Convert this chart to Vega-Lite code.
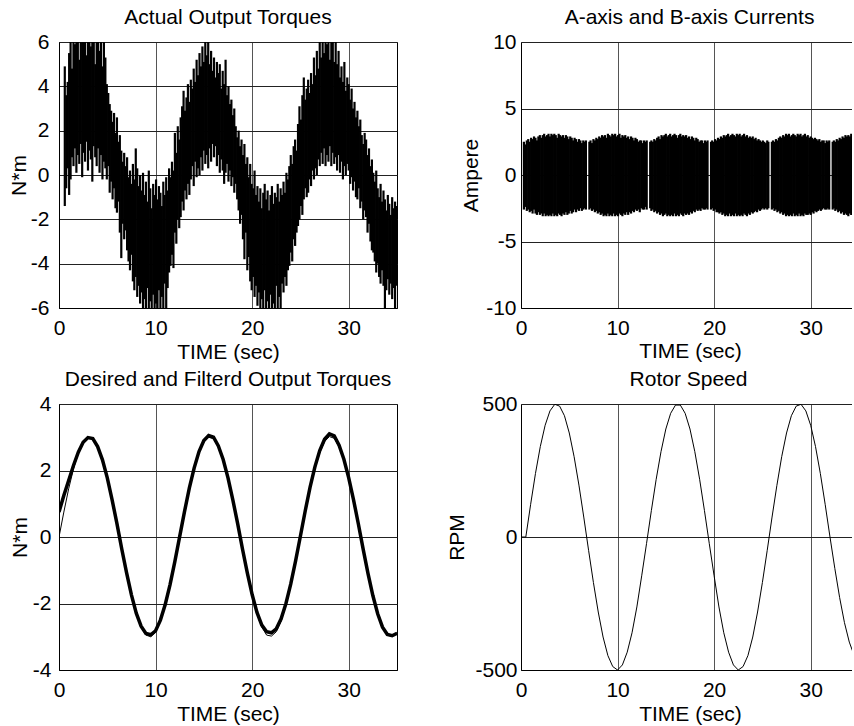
{
"$schema":"https://vega.github.io/schema/vega-lite/v6.json",
"background":"white",
"padding":{"left":7,"top":6,"right":0,"bottom":0},
"config":{
"font":"Liberation Sans",
"view":{"stroke":"black","strokeWidth":1},
"axis":{"labelFont":"Liberation Sans","labelFontSize":21,"labelColor":"black","titleFont":"Liberation Sans","titleFontSize":21,"titleFontWeight":"normal","titleColor":"black","ticks":false,"domainColor":"black","domainWidth":1,"grid":true,"gridOpacity":1,"labelFlush":false,"labelOverlap":false,"labelBound":false},
"axisX":{"gridColor":"#555555","gridWidth":1,"labelPadding":9,"titleBaseline":"alphabetic"},
"axisY":{"gridColor":"#222222","gridWidth":1,"labelPadding":10,"titleBaseline":"middle"},
"title":{"font":"Liberation Sans","fontSize":21,"fontWeight":"normal","color":"black","frame":"group","anchor":"middle","offset":3}
},
"datasets":{
"torque":[
{"t":0.6,"h":4.9,"l":-1.4},{"t":0.75,"h":3.6,"l":-0.6},{"t":0.9,"h":4.2,"l":0.3},{"t":1.05,"h":5.5,"l":-0.9},{"t":1.2,"h":6.5,"l":-0.2},{"t":1.35,"h":4.8,"l":0.8},{"t":1.5,"h":6.5,"l":0.4},{"t":1.65,"h":5.9,"l":1.2},{"t":1.8,"h":6.5,"l":0.1},{"t":1.95,"h":6.5,"l":0.9},
{"t":2.1,"h":5.2,"l":0.5},{"t":2.25,"h":6.5,"l":1.4},{"t":2.4,"h":6.5,"l":-0.1},{"t":2.55,"h":6.1,"l":1.0},{"t":2.7,"h":6.5,"l":0.6},{"t":2.85,"h":5.4,"l":1.5},{"t":3.0,"h":6.5,"l":0.2},{"t":3.15,"h":6.5,"l":1.1},{"t":3.3,"h":5.8,"l":0.7},{"t":3.45,"h":6.5,"l":-0.3},
{"t":3.6,"h":6.3,"l":1.3},{"t":3.75,"h":5.0,"l":0.8},{"t":3.9,"h":6.5,"l":0.4},{"t":4.05,"h":6.5,"l":1.2},{"t":4.2,"h":5.6,"l":0.1},{"t":4.35,"h":6.5,"l":0.9},{"t":4.5,"h":4.9,"l":-0.2},{"t":4.65,"h":6.5,"l":0.6},{"t":4.8,"h":5.3,"l":0.3},{"t":4.95,"h":4.1,"l":-0.2},
{"t":5.1,"h":3.7,"l":0.4},{"t":5.25,"h":3.2,"l":-0.8},{"t":5.4,"h":2.9,"l":-0.3},{"t":5.55,"h":2.4,"l":-1.1},{"t":5.7,"h":2.8,"l":-0.6},{"t":5.85,"h":1.9,"l":-1.5},{"t":6.0,"h":2.6,"l":-1.7},{"t":6.15,"h":1.5,"l":-1.2},{"t":6.3,"h":1.8,"l":-2.6},{"t":6.45,"h":1.1,"l":-3.75},
{"t":6.6,"h":0.6,"l":-2.2},{"t":6.75,"h":1.0,"l":-2.9},{"t":6.9,"h":0.4,"l":-2.5},{"t":7.05,"h":0.8,"l":-3.4},{"t":7.2,"h":-0.1,"l":-3.9},{"t":7.35,"h":0.2,"l":-4.3},{"t":7.5,"h":-0.4,"l":-3.6},{"t":7.65,"h":0.5,"l":-4.8},{"t":7.8,"h":-0.2,"l":-5.2},{"t":7.95,"h":1.2,"l":-4.6},
{"t":8.1,"h":0.3,"l":-5.5},{"t":8.25,"h":-0.5,"l":-5.0},{"t":8.4,"h":0.0,"l":-5.8},{"t":8.55,"h":-0.7,"l":-5.3},{"t":8.7,"h":0.1,"l":-6.2},{"t":8.85,"h":-0.9,"l":-5.6},{"t":9.0,"h":-0.3,"l":-6.2},{"t":9.15,"h":-1.2,"l":-5.1},{"t":9.3,"h":0.2,"l":-6.2},{"t":9.45,"h":-0.6,"l":-5.7},
{"t":9.6,"h":-1.5,"l":-6.2},{"t":9.75,"h":-0.4,"l":-5.4},{"t":9.9,"h":-0.9,"l":-6.2},{"t":10.05,"h":-0.2,"l":-5.8},{"t":10.2,"h":-1.1,"l":-6.2},{"t":10.35,"h":-0.5,"l":-5.2},{"t":10.5,"h":-0.8,"l":-6.2},{"t":10.65,"h":-1.4,"l":-5.5},{"t":10.8,"h":-0.3,"l":-6.0},{"t":10.95,"h":-0.9,"l":-4.9},
{"t":11.1,"h":-0.1,"l":-6.2},{"t":11.25,"h":-0.7,"l":-5.1},{"t":11.4,"h":0.3,"l":-4.4},{"t":11.55,"h":-0.1,"l":-4.1},{"t":11.7,"h":0.6,"l":-3.6},{"t":11.85,"h":0.2,"l":-4.2},{"t":12.0,"h":1.9,"l":-2.6},{"t":12.15,"h":1.0,"l":-3.1},{"t":12.3,"h":2.2,"l":-2.0},{"t":12.45,"h":1.6,"l":-2.4},
{"t":12.6,"h":2.6,"l":-1.9},{"t":12.75,"h":3.1,"l":-1.2},{"t":12.9,"h":3.8,"l":-1.6},{"t":13.05,"h":2.9,"l":-0.7},{"t":13.2,"h":3.5,"l":-1.1},{"t":13.35,"h":4.1,"l":-0.4},{"t":13.5,"h":3.3,"l":-0.9},{"t":13.65,"h":4.3,"l":-0.2},{"t":13.8,"h":3.9,"l":0.4},{"t":13.95,"h":4.8,"l":-0.5},
{"t":14.1,"h":4.2,"l":0.6},{"t":14.25,"h":5.2,"l":-0.1},{"t":14.4,"h":4.5,"l":0.3},{"t":14.55,"h":5.5,"l":0.0},{"t":14.7,"h":4.9,"l":0.8},{"t":14.85,"h":5.8,"l":0.2},{"t":15.0,"h":5.1,"l":1.1},{"t":15.15,"h":6.3,"l":0.5},{"t":15.3,"h":5.4,"l":0.9},{"t":15.45,"h":6.1,"l":0.3},
{"t":15.6,"h":5.0,"l":1.2},{"t":15.75,"h":5.6,"l":0.6},{"t":15.9,"h":4.7,"l":1.4},{"t":16.05,"h":5.3,"l":0.8},{"t":16.2,"h":4.4,"l":1.3},{"t":16.35,"h":5.1,"l":0.4},{"t":16.5,"h":4.6,"l":0.9},{"t":16.65,"h":5.0,"l":0.1},{"t":16.8,"h":3.9,"l":0.7},{"t":16.95,"h":4.7,"l":0.2},
{"t":17.1,"h":4.1,"l":-0.4},{"t":17.25,"h":5.2,"l":0.1},{"t":17.4,"h":3.6,"l":0.5},{"t":17.55,"h":4.0,"l":-0.3},{"t":17.7,"h":3.2,"l":0.2},{"t":17.85,"h":3.4,"l":-0.5},{"t":18.0,"h":2.7,"l":-0.1},{"t":18.15,"h":3.0,"l":-0.8},{"t":18.3,"h":2.2,"l":-0.4},{"t":18.45,"h":1.7,"l":-1.1},
{"t":18.6,"h":2.0,"l":-1.6},{"t":18.75,"h":1.3,"l":-2.2},{"t":18.9,"h":1.6,"l":-1.8},{"t":19.05,"h":0.9,"l":-2.9},{"t":19.2,"h":1.4,"l":-3.8},{"t":19.35,"h":0.5,"l":-2.6},{"t":19.5,"h":0.8,"l":-4.3},{"t":19.65,"h":-0.1,"l":-3.7},{"t":19.8,"h":0.5,"l":-4.8},{"t":19.95,"h":-0.4,"l":-5.2},
{"t":20.1,"h":-0.6,"l":-4.6},{"t":20.25,"h":0.2,"l":-5.5},{"t":20.4,"h":-0.9,"l":-5.0},{"t":20.55,"h":-0.5,"l":-5.9},{"t":20.7,"h":-1.2,"l":-5.3},{"t":20.85,"h":-0.6,"l":-6.2},{"t":21.0,"h":-1.5,"l":-5.6},{"t":21.15,"h":-0.8,"l":-6.2},{"t":21.3,"h":-0.4,"l":-5.2},{"t":21.45,"h":-1.1,"l":-6.2},
{"t":21.6,"h":-0.7,"l":-5.7},{"t":21.75,"h":-1.6,"l":-6.2},{"t":21.9,"h":-0.9,"l":-5.4},{"t":22.05,"h":-0.5,"l":-6.2},{"t":22.2,"h":-1.3,"l":-5.8},{"t":22.35,"h":-0.8,"l":-6.2},{"t":22.5,"h":-1.0,"l":-5.0},{"t":22.65,"h":-0.4,"l":-6.0},{"t":22.8,"h":-1.2,"l":-5.5},{"t":22.95,"h":-0.6,"l":-6.2},
{"t":23.1,"h":-0.9,"l":-4.9},{"t":23.25,"h":-0.3,"l":-5.3},{"t":23.4,"h":-0.8,"l":-4.6},{"t":23.55,"h":0.1,"l":-5.0},{"t":23.7,"h":-0.2,"l":-4.3},{"t":23.85,"h":0.4,"l":-4.1},{"t":24.0,"h":0.9,"l":-3.5},{"t":24.15,"h":0.5,"l":-3.9},{"t":24.3,"h":1.3,"l":-2.9},{"t":24.45,"h":1.6,"l":-3.2},
{"t":24.6,"h":1.1,"l":-2.6},{"t":24.75,"h":2.3,"l":-2.3},{"t":24.9,"h":3.1,"l":-2.0},{"t":25.05,"h":2.5,"l":-1.4},{"t":25.2,"h":3.6,"l":-1.8},{"t":25.35,"h":4.4,"l":-1.1},{"t":25.5,"h":3.4,"l":-0.6},{"t":25.65,"h":3.9,"l":-1.0},{"t":25.8,"h":4.3,"l":-0.8},{"t":25.95,"h":3.7,"l":-0.2},
{"t":26.1,"h":4.6,"l":-0.5},{"t":26.25,"h":4.1,"l":0.2},{"t":26.4,"h":5.3,"l":-0.2},{"t":26.55,"h":4.5,"l":0.3},{"t":26.7,"h":5.6,"l":0.0},{"t":26.85,"h":4.8,"l":0.7},{"t":27.0,"h":6.0,"l":0.4},{"t":27.15,"h":5.3,"l":1.0},{"t":27.3,"h":6.4,"l":0.5},{"t":27.45,"h":5.5,"l":1.2},
{"t":27.6,"h":6.4,"l":0.4},{"t":27.75,"h":5.9,"l":0.9},{"t":27.9,"h":6.4,"l":0.6},{"t":28.05,"h":5.2,"l":1.3},{"t":28.2,"h":6.4,"l":0.4},{"t":28.35,"h":6.0,"l":1.0},{"t":28.5,"h":5.1,"l":0.5},{"t":28.65,"h":6.4,"l":0.8},{"t":28.8,"h":5.0,"l":0.2},{"t":28.95,"h":5.6,"l":0.9},
{"t":29.1,"h":4.4,"l":0.1},{"t":29.25,"h":4.9,"l":0.6},{"t":29.4,"h":4.2,"l":-0.2},{"t":29.55,"h":5.1,"l":0.4},{"t":29.7,"h":3.8,"l":0.0},{"t":29.85,"h":4.4,"l":0.5},{"t":30.0,"h":4.1,"l":0.2},{"t":30.15,"h":3.4,"l":-0.4},{"t":30.3,"h":3.9,"l":-0.1},{"t":30.45,"h":3.0,"l":-0.7},
{"t":30.6,"h":3.3,"l":-0.3},{"t":30.75,"h":2.6,"l":-1.0},{"t":30.9,"h":2.9,"l":-1.1},{"t":31.05,"h":2.2,"l":-0.6},{"t":31.2,"h":2.5,"l":-1.5},{"t":31.35,"h":1.8,"l":-1.2},{"t":31.5,"h":1.4,"l":-2.0},{"t":31.65,"h":1.9,"l":-1.6},{"t":31.8,"h":1.6,"l":-1.9},{"t":31.95,"h":0.9,"l":-2.6},
{"t":32.1,"h":1.2,"l":-2.2},{"t":32.25,"h":0.4,"l":-3.0},{"t":32.4,"h":0.7,"l":-3.4},{"t":32.55,"h":0.1,"l":-3.5},{"t":32.7,"h":-0.3,"l":-3.9},{"t":32.85,"h":0.2,"l":-4.4},{"t":33.0,"h":-0.6,"l":-4.0},{"t":33.15,"h":-1.0,"l":-4.6},{"t":33.3,"h":-0.4,"l":-4.9},{"t":33.45,"h":-1.2,"l":-4.3},
{"t":33.6,"h":-0.7,"l":-5.0},{"t":33.75,"h":-1.1,"l":-6.2},{"t":33.9,"h":-1.6,"l":-5.2},{"t":34.05,"h":-0.9,"l":-4.7},{"t":34.2,"h":-1.3,"l":-5.4},{"t":34.35,"h":-1.8,"l":-4.9},{"t":34.5,"h":-1.0,"l":-5.6},{"t":34.65,"h":-1.5,"l":-5.1},{"t":34.8,"h":-1.2,"l":-6.0},{"t":34.95,"h":-1.4,"l":-5.0}
],
"current":[
{"t":0.3,"h":2.5,"l":-2.6},{"t":0.45,"h":2.3,"l":-2.4},{"t":0.6,"h":2.6,"l":-2.7},{"t":0.75,"h":2.7,"l":-2.6},{"t":0.9,"h":2.5,"l":-2.8},{"t":1.05,"h":2.8,"l":-2.7},{"t":1.2,"h":2.7,"l":-2.9},{"t":1.35,"h":2.9,"l":-2.6},{"t":1.5,"h":2.8,"l":-2.9},{"t":1.65,"h":2.6,"l":-3.0},
{"t":1.8,"h":2.9,"l":-2.8},{"t":1.95,"h":3.0,"l":-3.0},{"t":2.1,"h":2.8,"l":-2.9},{"t":2.25,"h":3.0,"l":-3.1},{"t":2.4,"h":3.1,"l":-2.9},{"t":2.55,"h":2.9,"l":-3.1},{"t":2.7,"h":3.0,"l":-3.0},{"t":2.85,"h":3.1,"l":-3.1},{"t":3.0,"h":2.9,"l":-3.0},{"t":3.15,"h":3.1,"l":-3.1},
{"t":3.3,"h":3.0,"l":-2.9},{"t":3.45,"h":3.1,"l":-3.1},{"t":3.6,"h":3.0,"l":-3.0},{"t":3.75,"h":2.8,"l":-3.1},{"t":3.9,"h":3.1,"l":-2.9},{"t":4.05,"h":3.0,"l":-3.0},{"t":4.2,"h":2.9,"l":-3.1},{"t":4.35,"h":3.0,"l":-2.9},{"t":4.5,"h":2.8,"l":-3.0},{"t":4.65,"h":3.0,"l":-2.8},
{"t":4.8,"h":2.9,"l":-3.0},{"t":4.95,"h":2.7,"l":-2.9},{"t":5.1,"h":2.9,"l":-2.7},{"t":5.25,"h":2.8,"l":-2.9},{"t":5.4,"h":2.6,"l":-2.8},{"t":5.55,"h":2.8,"l":-2.6},{"t":5.7,"h":2.7,"l":-2.8},{"t":5.85,"h":2.5,"l":-2.6},{"t":6.0,"h":2.7,"l":-2.7},{"t":6.15,"h":2.6,"l":-2.5},
{"t":6.3,"h":2.4,"l":-2.7},{"t":6.45,"h":2.6,"l":-2.6},{"t":6.6,"h":2.5,"l":-2.5},{"t":6.72,"h":2.6,"l":-2.6},
{"t":7.08,"h":2.5,"l":-2.6},{"t":7.2,"h":2.6,"l":-2.5},{"t":7.35,"h":2.4,"l":-2.7},{"t":7.5,"h":2.7,"l":-2.6},{"t":7.65,"h":2.6,"l":-2.8},{"t":7.8,"h":2.8,"l":-2.7},{"t":7.95,"h":2.7,"l":-2.9},{"t":8.1,"h":2.9,"l":-2.8},{"t":8.25,"h":2.8,"l":-3.0},{"t":8.4,"h":3.0,"l":-2.9},
{"t":8.55,"h":2.9,"l":-3.1},{"t":8.7,"h":3.0,"l":-3.0},{"t":8.85,"h":2.8,"l":-3.1},{"t":9.0,"h":3.1,"l":-2.9},{"t":9.15,"h":3.0,"l":-3.1},{"t":9.3,"h":2.9,"l":-3.0},{"t":9.45,"h":3.1,"l":-3.1},{"t":9.6,"h":3.0,"l":-2.9},{"t":9.75,"h":3.1,"l":-3.1},{"t":9.9,"h":2.9,"l":-3.0},
{"t":10.05,"h":3.0,"l":-3.1},{"t":10.2,"h":3.1,"l":-2.9},{"t":10.35,"h":2.8,"l":-3.0},{"t":10.5,"h":3.0,"l":-3.1},{"t":10.65,"h":2.9,"l":-2.9},{"t":10.8,"h":3.0,"l":-3.0},{"t":10.95,"h":2.8,"l":-2.8},{"t":11.1,"h":2.9,"l":-3.0},{"t":11.25,"h":2.7,"l":-2.8},{"t":11.4,"h":2.9,"l":-2.9},
{"t":11.55,"h":2.8,"l":-2.7},{"t":11.7,"h":2.6,"l":-2.8},{"t":11.85,"h":2.8,"l":-2.6},{"t":12.0,"h":2.7,"l":-2.7},{"t":12.15,"h":2.5,"l":-2.6},{"t":12.3,"h":2.6,"l":-2.8},{"t":12.45,"h":2.6,"l":-2.5},{"t":12.6,"h":2.4,"l":-2.6},{"t":12.75,"h":2.6,"l":-2.6},{"t":12.9,"h":2.5,"l":-2.4},
{"t":13.02,"h":2.6,"l":-2.6},
{"t":13.38,"h":2.5,"l":-2.5},{"t":13.5,"h":2.6,"l":-2.7},{"t":13.65,"h":2.5,"l":-2.6},{"t":13.8,"h":2.7,"l":-2.8},{"t":13.95,"h":2.6,"l":-2.7},{"t":14.1,"h":2.8,"l":-2.9},{"t":14.25,"h":2.9,"l":-2.8},{"t":14.4,"h":2.7,"l":-3.0},{"t":14.55,"h":3.0,"l":-2.9},{"t":14.7,"h":2.9,"l":-3.1},
{"t":14.85,"h":3.0,"l":-3.0},{"t":15.0,"h":3.1,"l":-2.9},{"t":15.15,"h":2.9,"l":-3.1},{"t":15.3,"h":3.0,"l":-3.0},{"t":15.45,"h":3.1,"l":-3.1},{"t":15.6,"h":2.9,"l":-3.0},{"t":15.75,"h":3.0,"l":-3.1},{"t":15.9,"h":3.1,"l":-2.9},{"t":16.05,"h":3.0,"l":-3.1},{"t":16.2,"h":2.8,"l":-3.0},
{"t":16.35,"h":3.0,"l":-3.1},{"t":16.5,"h":3.1,"l":-2.9},{"t":16.65,"h":2.9,"l":-3.0},{"t":16.8,"h":3.0,"l":-3.1},{"t":16.95,"h":2.9,"l":-2.9},{"t":17.1,"h":3.0,"l":-3.0},{"t":17.25,"h":2.8,"l":-2.9},{"t":17.4,"h":2.9,"l":-3.0},{"t":17.55,"h":2.7,"l":-2.8},{"t":17.7,"h":2.9,"l":-2.9},
{"t":17.85,"h":2.8,"l":-2.7},{"t":18.0,"h":2.6,"l":-2.8},{"t":18.15,"h":2.8,"l":-2.6},{"t":18.3,"h":2.7,"l":-2.7},{"t":18.45,"h":2.5,"l":-2.6},{"t":18.6,"h":2.6,"l":-2.7},{"t":18.75,"h":2.6,"l":-2.5},{"t":18.9,"h":2.4,"l":-2.6},{"t":19.05,"h":2.6,"l":-2.6},{"t":19.2,"h":2.5,"l":-2.5},
{"t":19.32,"h":2.6,"l":-2.6},
{"t":19.68,"h":2.5,"l":-2.6},{"t":19.8,"h":2.6,"l":-2.5},{"t":19.95,"h":2.5,"l":-2.7},{"t":20.1,"h":2.7,"l":-2.6},{"t":20.25,"h":2.6,"l":-2.8},{"t":20.4,"h":2.8,"l":-2.8},{"t":20.55,"h":2.7,"l":-2.9},{"t":20.7,"h":2.9,"l":-2.8},{"t":20.85,"h":2.8,"l":-3.0},{"t":21.0,"h":3.0,"l":-2.9},
{"t":21.15,"h":2.9,"l":-3.1},{"t":21.3,"h":3.0,"l":-3.0},{"t":21.45,"h":3.1,"l":-3.1},{"t":21.6,"h":2.9,"l":-2.9},{"t":21.75,"h":3.0,"l":-3.1},{"t":21.9,"h":3.1,"l":-3.0},{"t":22.05,"h":3.0,"l":-3.1},{"t":22.2,"h":2.9,"l":-2.9},{"t":22.35,"h":3.1,"l":-3.1},{"t":22.5,"h":3.0,"l":-3.0},
{"t":22.65,"h":3.1,"l":-3.1},{"t":22.8,"h":2.9,"l":-3.0},{"t":22.95,"h":3.0,"l":-3.1},{"t":23.1,"h":3.1,"l":-2.9},{"t":23.25,"h":2.9,"l":-3.0},{"t":23.4,"h":3.0,"l":-3.1},{"t":23.55,"h":2.8,"l":-2.9},{"t":23.7,"h":2.9,"l":-3.0},{"t":23.85,"h":2.8,"l":-2.8},{"t":24.0,"h":2.9,"l":-2.9},
{"t":24.15,"h":2.7,"l":-2.8},{"t":24.3,"h":2.8,"l":-2.7},{"t":24.45,"h":2.6,"l":-2.8},{"t":24.6,"h":2.7,"l":-2.6},{"t":24.75,"h":2.6,"l":-2.7},{"t":24.9,"h":2.5,"l":-2.6},{"t":25.05,"h":2.6,"l":-2.5},{"t":25.2,"h":2.5,"l":-2.6},{"t":25.35,"h":2.4,"l":-2.5},{"t":25.5,"h":2.6,"l":-2.6},
{"t":25.62,"h":2.5,"l":-2.5},
{"t":25.98,"h":2.5,"l":-2.6},{"t":26.1,"h":2.6,"l":-2.5},{"t":26.25,"h":2.5,"l":-2.7},{"t":26.4,"h":2.7,"l":-2.6},{"t":26.55,"h":2.6,"l":-2.8},{"t":26.7,"h":2.8,"l":-2.7},{"t":26.85,"h":2.9,"l":-2.9},{"t":27.0,"h":2.8,"l":-2.8},{"t":27.15,"h":3.0,"l":-3.0},{"t":27.3,"h":2.9,"l":-2.9},
{"t":27.45,"h":3.1,"l":-3.1},{"t":27.6,"h":3.0,"l":-3.0},{"t":27.75,"h":3.1,"l":-3.1},{"t":27.9,"h":2.9,"l":-3.0},{"t":28.05,"h":3.0,"l":-3.1},{"t":28.2,"h":3.1,"l":-2.9},{"t":28.35,"h":3.0,"l":-3.1},{"t":28.5,"h":2.9,"l":-3.0},{"t":28.65,"h":3.1,"l":-3.1},{"t":28.8,"h":3.0,"l":-2.9},
{"t":28.95,"h":3.1,"l":-3.1},{"t":29.1,"h":2.9,"l":-3.0},{"t":29.25,"h":3.0,"l":-3.1},{"t":29.4,"h":3.1,"l":-2.9},{"t":29.55,"h":2.9,"l":-3.0},{"t":29.7,"h":3.0,"l":-3.0},{"t":29.85,"h":2.8,"l":-2.9},{"t":30.0,"h":2.9,"l":-3.0},{"t":30.15,"h":2.8,"l":-2.8},{"t":30.3,"h":2.7,"l":-2.9},
{"t":30.45,"h":2.8,"l":-2.7},{"t":30.6,"h":2.7,"l":-2.8},{"t":30.75,"h":2.6,"l":-2.7},{"t":30.9,"h":2.7,"l":-2.6},{"t":31.05,"h":2.5,"l":-2.7},{"t":31.2,"h":2.6,"l":-2.6},{"t":31.35,"h":2.6,"l":-2.5},{"t":31.5,"h":2.4,"l":-2.6},{"t":31.65,"h":2.6,"l":-2.6},{"t":31.8,"h":2.5,"l":-2.5},
{"t":31.92,"h":2.6,"l":-2.6},
{"t":32.28,"h":2.5,"l":-2.6},{"t":32.4,"h":2.6,"l":-2.5},{"t":32.55,"h":2.5,"l":-2.7},{"t":32.7,"h":2.7,"l":-2.6},{"t":32.85,"h":2.6,"l":-2.8},{"t":33.0,"h":2.8,"l":-2.7},{"t":33.15,"h":2.7,"l":-2.9},{"t":33.3,"h":2.9,"l":-2.8},{"t":33.45,"h":2.8,"l":-3.0},{"t":33.6,"h":3.0,"l":-2.9},
{"t":33.75,"h":2.9,"l":-3.0},{"t":33.9,"h":3.0,"l":-3.1},{"t":34.05,"h":2.9,"l":-2.9},{"t":34.2,"h":3.1,"l":-3.0}
],
"desired":[
{"t":0,"v":0},{"t":0.5,"v":0.75},{"t":1,"v":1.45},{"t":1.5,"v":2.05},{"t":2,"v":2.53},{"t":2.5,"v":2.85},{"t":3,"v":2.99},{"t":3.5,"v":2.95},{"t":4,"v":2.71},{"t":4.5,"v":2.31},{"t":5,"v":1.76},{"t":5.5,"v":1.1},{"t":6,"v":0.38},{"t":6.5,"v":-0.38},{"t":7,"v":-1.1},{"t":7.5,"v":-1.76},{"t":8,"v":-2.31},{"t":8.5,"v":-2.71},{"t":9,"v":-2.95},{"t":9.5,"v":-3.0},{"t":10,"v":-2.87},{"t":10.5,"v":-2.53},{"t":11,"v":-2.05},{"t":11.5,"v":-1.45},{"t":12,"v":-0.75},{"t":12.5,"v":0},{"t":13,"v":0.75},{"t":13.5,"v":1.45},{"t":14,"v":2.05},{"t":14.5,"v":2.53},{"t":15,"v":2.85},{"t":15.5,"v":3.0},{"t":16,"v":2.96},{"t":16.5,"v":2.71},{"t":17,"v":2.31},{"t":17.5,"v":1.76},{"t":18,"v":1.1},{"t":18.5,"v":0.38},{"t":19,"v":-0.38},{"t":19.5,"v":-1.1},{"t":20,"v":-1.76},{"t":20.5,"v":-2.31},{"t":21,"v":-2.71},{"t":21.5,"v":-2.95},{"t":22,"v":-2.98},{"t":22.5,"v":-2.85},{"t":23,"v":-2.53},{"t":23.5,"v":-2.05},{"t":24,"v":-1.45},{"t":24.5,"v":-0.75},{"t":25,"v":0},{"t":25.5,"v":0.75},{"t":26,"v":1.45},{"t":26.5,"v":2.05},{"t":27,"v":2.53},{"t":27.5,"v":2.87},{"t":28,"v":3.02},{"t":28.5,"v":2.97},{"t":29,"v":2.71},{"t":29.5,"v":2.31},{"t":30,"v":1.76},{"t":30.5,"v":1.1},{"t":31,"v":0.38},{"t":31.5,"v":-0.38},{"t":32,"v":-1.1},{"t":32.5,"v":-1.76},{"t":33,"v":-2.31},{"t":33.5,"v":-2.71},{"t":34,"v":-2.95},{"t":34.5,"v":-2.99},{"t":35,"v":-2.87}
],
"filtered":[
{"t":0,"v":0.75},{"t":0.5,"v":1.25},{"t":1,"v":1.7},{"t":1.5,"v":2.15},{"t":2,"v":2.55},{"t":2.5,"v":2.85},{"t":3,"v":2.99},{"t":3.5,"v":2.96},{"t":4,"v":2.72},{"t":4.5,"v":2.32},{"t":5,"v":1.78},{"t":5.5,"v":1.12},{"t":6,"v":0.4},{"t":6.5,"v":-0.36},{"t":7,"v":-1.08},{"t":7.5,"v":-1.74},{"t":8,"v":-2.29},{"t":8.5,"v":-2.68},{"t":9,"v":-2.9},{"t":9.5,"v":-2.94},{"t":10,"v":-2.82},{"t":10.5,"v":-2.5},{"t":11,"v":-2.03},{"t":11.5,"v":-1.43},{"t":12,"v":-0.73},{"t":12.5,"v":0.02},{"t":13,"v":0.77},{"t":13.5,"v":1.48},{"t":14,"v":2.08},{"t":14.5,"v":2.57},{"t":15,"v":2.9},{"t":15.5,"v":3.05},{"t":16,"v":3.0},{"t":16.5,"v":2.74},{"t":17,"v":2.33},{"t":17.5,"v":1.78},{"t":18,"v":1.12},{"t":18.5,"v":0.4},{"t":19,"v":-0.36},{"t":19.5,"v":-1.08},{"t":20,"v":-1.73},{"t":20.5,"v":-2.27},{"t":21,"v":-2.65},{"t":21.5,"v":-2.85},{"t":22,"v":-2.88},{"t":22.5,"v":-2.76},{"t":23,"v":-2.46},{"t":23.5,"v":-2.0},{"t":24,"v":-1.41},{"t":24.5,"v":-0.72},{"t":25,"v":0.03},{"t":25.5,"v":0.79},{"t":26,"v":1.5},{"t":26.5,"v":2.11},{"t":27,"v":2.6},{"t":27.5,"v":2.94},{"t":28,"v":3.1},{"t":28.5,"v":3.04},{"t":29,"v":2.76},{"t":29.5,"v":2.34},{"t":30,"v":1.78},{"t":30.5,"v":1.12},{"t":31,"v":0.39},{"t":31.5,"v":-0.37},{"t":32,"v":-1.1},{"t":32.5,"v":-1.76},{"t":33,"v":-2.31},{"t":33.5,"v":-2.71},{"t":34,"v":-2.93},{"t":34.5,"v":-2.97},{"t":35,"v":-2.9}
],
"speed":[
{"t":0,"v":0},{"t":0.5,"v":0},{"t":1,"v":123},{"t":1.5,"v":239},{"t":2,"v":340},{"t":2.5,"v":420},{"t":3,"v":474},{"t":3.5,"v":499},{"t":4,"v":492},{"t":4.5,"v":456},{"t":5,"v":391},{"t":5.5,"v":302},{"t":6,"v":195},{"t":6.5,"v":75},{"t":7,"v":-50},{"t":7.5,"v":-171},{"t":8,"v":-282},{"t":8.5,"v":-376},{"t":9,"v":-446},{"t":9.5,"v":-487},{"t":10,"v":-500},{"t":10.5,"v":-481},{"t":11,"v":-433},{"t":11.5,"v":-360},{"t":12,"v":-263},{"t":12.5,"v":-146},{"t":13,"v":-25},{"t":13.5,"v":99},{"t":14,"v":217},{"t":14.5,"v":321},{"t":15,"v":406},{"t":15.5,"v":465},{"t":16,"v":496},{"t":16.5,"v":496},{"t":17,"v":465},{"t":17.5,"v":406},{"t":18,"v":321},{"t":18.5,"v":217},{"t":19,"v":99},{"t":19.5,"v":-25},{"t":20,"v":-146},{"t":20.5,"v":-263},{"t":21,"v":-360},{"t":21.5,"v":-433},{"t":22,"v":-481},{"t":22.5,"v":-500},{"t":23,"v":-487},{"t":23.5,"v":-446},{"t":24,"v":-376},{"t":24.5,"v":-282},{"t":25,"v":-171},{"t":25.5,"v":-50},{"t":26,"v":75},{"t":26.5,"v":194},{"t":27,"v":302},{"t":27.5,"v":391},{"t":28,"v":456},{"t":28.5,"v":492},{"t":29,"v":499},{"t":29.5,"v":474},{"t":30,"v":420},{"t":30.5,"v":340},{"t":31,"v":239},{"t":31.5,"v":123},{"t":32,"v":0},{"t":32.5,"v":-118},{"t":33,"v":-228},{"t":33.5,"v":-322},{"t":34,"v":-395},{"t":34.5,"v":-445}
]
},
"columns":2,
"bounds":"flush",
"align":"each",
"spacing":{"row":96,"column":124},
"concat":[
{
"width":338,"height":266,
"title":{"text":"Actual Output Torques"},
"data":{"name":"torque"},
"mark":{"type":"rule","clip":true,"strokeWidth":2.2,"color":"black"},
"encoding":{
"x":{"field":"t","type":"quantitative","scale":{"domain":[0,35],"nice":false,"zero":false},"axis":{"values":[0,10,20,30],"title":"TIME (sec)","titleY":50}},
"y":{"field":"h","type":"quantitative","scale":{"domain":[-6,6],"nice":false},"axis":{"values":[-6,-4,-2,0,2,4,6],"labelExpr":"'' + datum.value","title":"N*m","titleX":-40}},
"y2":{"field":"l"}
}
},
{
"width":331,"height":266,
"view":{"stroke":null},
"title":{"text":"A-axis and B-axis Currents","dx":3},
"data":{"name":"current"},
"mark":{"type":"rule","clip":true,"strokeWidth":2.2,"color":"black"},
"encoding":{
"x":{"field":"t","type":"quantitative","scale":{"domain":[0,34.28],"nice":false,"zero":false},"axis":{"values":[0,10,20,30],"title":"TIME (sec)","titleY":49,"titleX":169}},
"y":{"field":"h","type":"quantitative","scale":{"domain":[-10,10],"nice":false},"axis":{"values":[-10,-5,0,5,10],"labelExpr":"'' + datum.value","title":"Ampere","titleX":-50,"labelPadding":5}},
"y2":{"field":"l"}
}
},
{
"width":338,"height":266,
"title":{"text":"Desired and Filterd Output Torques"},
"layer":[
{"data":{"name":"filtered"},
"mark":{"type":"line","strokeWidth":3.5,"color":"black","clip":true},
"encoding":{
"x":{"field":"t","type":"quantitative","scale":{"domain":[0,35],"nice":false,"zero":false},"axis":{"values":[0,10,20,30],"title":"TIME (sec)","titleY":50}},
"y":{"field":"v","type":"quantitative","scale":{"domain":[-4,4],"nice":false},"axis":{"values":[-4,-2,0,2,4],"labelExpr":"'' + datum.value","title":"N*m","titleX":-39,"labelPadding":8}}
}},
{"data":{"name":"desired"},
"mark":{"type":"line","strokeWidth":1,"color":"black","clip":true},
"encoding":{
"x":{"field":"t","type":"quantitative"},
"y":{"field":"v","type":"quantitative"}
}}
]
},
{
"width":331,"height":266,
"view":{"stroke":null},
"title":{"text":"Rotor Speed","dx":2},
"data":{"name":"speed"},
"mark":{"type":"line","strokeWidth":1,"color":"black","clip":true},
"encoding":{
"x":{"field":"t","type":"quantitative","scale":{"domain":[0,34.28],"nice":false,"zero":false},"axis":{"values":[0,10,20,30],"title":"TIME (sec)","titleY":50,"titleX":169}},
"y":{"field":"v","type":"quantitative","scale":{"domain":[-500,500],"nice":false},"axis":{"values":[-500,0,500],"labelExpr":"'' + datum.value","title":"RPM","titleX":-64,"labelPadding":4}}
}
}
]
}
